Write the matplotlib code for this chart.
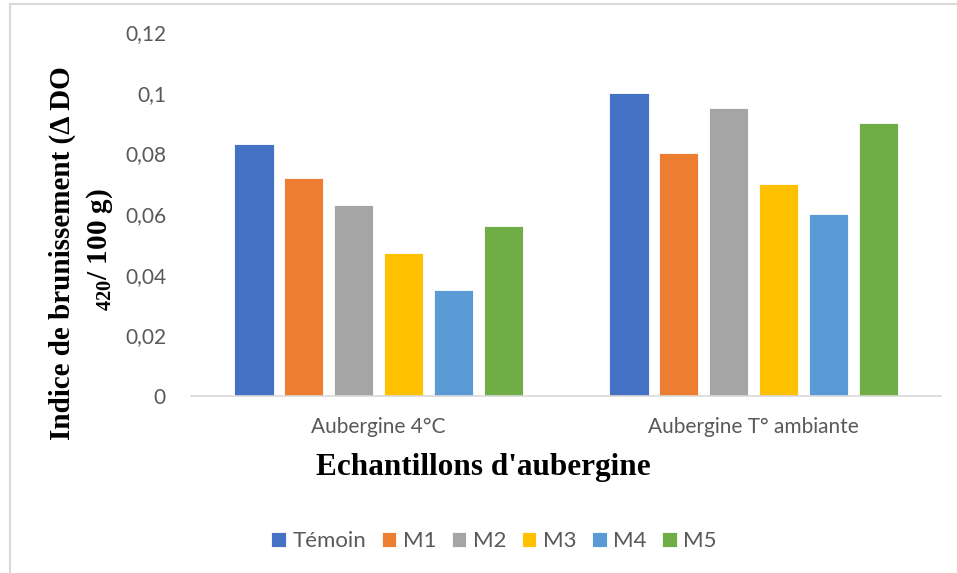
import matplotlib
matplotlib.use("Agg")
import matplotlib.pyplot as plt
import matplotlib.patches as mpatches
import numpy as np

# ---- data ----
categories = ["Aubergine 4°C", "Aubergine T° ambiante"]
series = ["Témoin", "M1", "M2", "M3", "M4", "M5"]
values = [
    [0.083, 0.100],   # Témoin
    [0.072, 0.080],   # M1
    [0.063, 0.095],   # M2
    [0.047, 0.070],   # M3
    [0.035, 0.060],   # M4
    [0.056, 0.090],   # M5
]
colors = ["#4472C4", "#ED7D31", "#A5A5A5", "#FFC000", "#5B9BD5", "#70AD47"]
yticks = [0, 0.02, 0.04, 0.06, 0.08, 0.1, 0.12]
ytick_labels = ["0", "0,02", "0,04", "0,06", "0,08", "0,1", "0,12"]

plt.rcParams["mathtext.fontset"] = "custom"
plt.rcParams["mathtext.rm"] = "Liberation Serif"
plt.rcParams["mathtext.bf"] = "Liberation Serif:bold"

fig = plt.figure(figsize=(9.57, 5.73), dpi=100)
ax = fig.add_axes([191 / 957, 1 - 396 / 573, 750 / 957, 364 / 573])

x = np.arange(len(categories))
step = 0.133
width = 0.105
for i, (name, vals) in enumerate(zip(series, values)):
    off = (i - (len(series) - 1) / 2) * step
    ax.bar(x + off, vals, width, color=colors[i], label=name,
           edgecolor="white", linewidth=0.6)

ax.set_xlim(-0.5, 1.5)
ax.set_ylim(0, 0.12)
ax.set_yticks(yticks)
ax.set_yticklabels(ytick_labels)
ax.set_xticks(x)
ax.set_xticklabels(categories)
ax.tick_params(axis="y", length=0, pad=18, labelsize=15, labelcolor="#595959")
ax.tick_params(axis="x", length=0, pad=15, labelsize=15, labelcolor="#595959")
for lab in ax.get_xticklabels() + ax.get_yticklabels():
    lab.set_fontfamily("Lato")

for s in ["top", "right", "left"]:
    ax.spines[s].set_visible(False)
ax.spines["bottom"].set_color("#d9d9d9")
ax.spines["bottom"].set_linewidth(1.2)

# axis titles (bold serif, as in the original)
fig.text(62 / 957, 1 - 253 / 573, "Indice de brunissement (Δ DO",
         rotation=90, ha="center", va="center", fontsize=21,
         fontweight="bold", family="Liberation Serif")
fig.text(100 / 957, 1 - 250 / 573, r"$\mathbf{_{420}}$/ 100 g)",
         rotation=90, ha="center", va="center", fontsize=21,
         fontweight="bold", family="Liberation Serif")
fig.text(483 / 957, 1 - 468 / 573, "Echantillons d'aubergine",
         ha="center", va="center", fontsize=22.5, fontweight="bold",
         family="Liberation Serif")

leg = fig.legend(loc="center", bbox_to_anchor=(494 / 957, 1 - 541 / 573),
                 ncol=6, frameon=False, handlelength=0.65, handleheight=0.65,
                 handletextpad=0.3, columnspacing=0.7,
                 prop={"family": "Lato", "size": 16})
for t in leg.get_texts():
    t.set_color("#595959")

# light chart-area frame (cut off at right and bottom in the original)
fig.patches.append(mpatches.Rectangle((10 / 957, -0.1), 1.2, 1.1 - 4 / 573,
                                      transform=fig.transFigure, fill=False,
                                      edgecolor="#d9d9d9", linewidth=1.5))

fig.savefig("out.png", dpi=100)
